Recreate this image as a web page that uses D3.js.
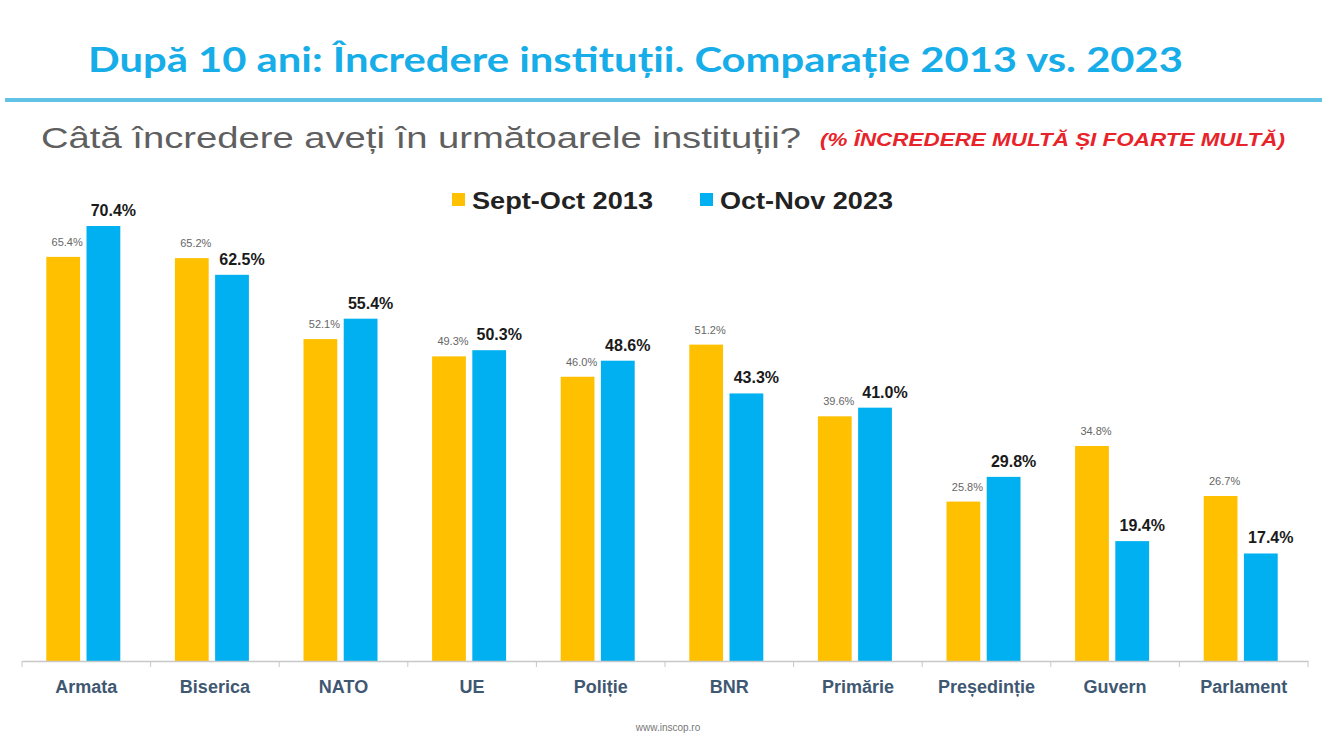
<!DOCTYPE html>
<html>
<head>
<meta charset="utf-8">
<script src="https://cdn.jsdelivr.net/npm/d3@7"></script>
<style>
body { margin: 0; background: #fff; }
svg { display: block; }
</style>
</head>
<body>
<script>
// institutii si valori (% incredere multa si foarte multa)
const categories = ["Armata", "Biserica", "NATO", "UE", "Poliție", "BNR", "Primărie", "Președinție", "Guvern", "Parlament"];
const values2013 = [65.4, 65.2, 52.1, 49.3, 46.0, 51.2, 39.6, 25.8, 34.8, 26.7];
const values2023 = [70.4, 62.5, 55.4, 50.3, 48.6, 43.3, 41.0, 29.8, 19.4, 17.4];
const seriesNames = ["Sept-Oct 2013", "Oct-Nov 2023"];

const W = 1322, H = 750;
const orange = "#FFC000", blue = "#00B0F0";

const svg = d3.select("body").append("svg")
  .attr("width", W)
  .attr("height", H);

// titlu
svg.append("text")
  .attr("x", 88).attr("y", 72)
  .attr("textLength", 1095)
  .attr("lengthAdjust", "spacingAndGlyphs")
  .style("font-family", "Lato, 'Open Sans', sans-serif")
  .style("font-weight", "bold")
  .style("font-size", "35px")
  .style("fill", "#16ADE8")
  .text("După 10 ani: Încredere instituții. Comparație 2013 vs. 2023");

svg.append("line")
  .attr("x1", 5).attr("x2", W)
  .attr("y1", 100).attr("y2", 100)
  .attr("stroke", "#62C3E6")
  .attr("stroke-width", 4);

svg.append("text")
  .attr("x", 41).attr("y", 148)
  .attr("textLength", 760)
  .attr("lengthAdjust", "spacingAndGlyphs")
  .style("font-family", "'Liberation Sans', Arial, sans-serif")
  .style("font-size", "29px")
  .style("fill", "#5f5f5f")
  .text("Câtă încredere aveți în următoarele instituții?");

svg.append("text")
  .attr("x", 820).attr("y", 146)
  .attr("textLength", 465)
  .attr("lengthAdjust", "spacingAndGlyphs")
  .style("font-family", "'Liberation Sans', Arial, sans-serif")
  .style("font-weight", "bold")
  .style("font-style", "italic")
  .style("font-size", "19px")
  .style("fill", "#E8232A")
  .text("(% ÎNCREDERE MULTĂ ȘI FOARTE MULTĂ)");

// legenda
const legend = svg.append("g");
[[orange, 452, seriesNames[0], 181], [blue, 700, seriesNames[1], 173]].forEach(([c, x, t, len]) => {
  legend.append("rect")
    .attr("x", x).attr("y", 193)
    .attr("width", 13).attr("height", 13)
    .attr("fill", c);
  legend.append("text")
    .attr("x", x + 20).attr("y", 209)
    .attr("textLength", len)
    .attr("lengthAdjust", "spacingAndGlyphs")
    .style("font-family", "'Liberation Sans', Arial, sans-serif")
    .style("font-weight", "bold")
    .style("font-size", "23px")
    .style("fill", "#222")
    .text(t);
});

// scale
const x0 = d3.scaleBand()
  .domain(categories)
  .range([22, 1308]);

const x1 = d3.scaleBand()
  .domain(seriesNames)
  .range([0, 74])
  .paddingInner(0.16);

const y = d3.scaleLinear()
  .domain([0, 70.4])
  .range([661, 226]);

const rows = categories.map((c, i) => ({ c: c, a: values2013[i], b: values2023[i] }));

const groups = svg.selectAll("g.cat")
  .data(rows)
  .enter()
  .append("g")
  .attr("class", "cat")
  .attr("transform", d => "translate(" + (x0(d.c) + x0.bandwidth() / 2 - 40) + ",0)");

groups.append("rect")
  .attr("x", x1(seriesNames[0]))
  .attr("y", d => y(d.a))
  .attr("width", x1.bandwidth())
  .attr("height", d => y(0) - y(d.a))
  .attr("fill", orange);

groups.append("rect")
  .attr("x", x1(seriesNames[1]))
  .attr("y", d => y(d.b))
  .attr("width", x1.bandwidth())
  .attr("height", d => y(0) - y(d.b))
  .attr("fill", blue);

// etichete valori
groups.append("text")
  .attr("x", x1(seriesNames[0]) + x1.bandwidth() / 2 + 4)
  .attr("y", d => y(d.a) - 11)
  .attr("text-anchor", "middle")
  .style("font-family", "'Liberation Sans', Arial, sans-serif")
  .style("font-size", "11px")
  .style("fill", "#666")
  .text(d => d.a.toFixed(1) + "%");

groups.append("text")
  .attr("x", x1(seriesNames[1]) + x1.bandwidth() / 2 + 10)
  .attr("y", d => y(d.b) - 10)
  .attr("text-anchor", "middle")
  .style("font-family", "'Liberation Sans', Arial, sans-serif")
  .style("font-weight", "bold")
  .style("font-size", "16px")
  .style("fill", "#1a1a1a")
  .text(d => d.b.toFixed(1) + "%");

// axa x
const xAxis = d3.axisBottom(x0).tickSize(0).tickPadding(19);
const ax = svg.append("g")
  .attr("transform", "translate(0," + y(0) + ")")
  .call(xAxis);
ax.select(".domain").attr("stroke", "#c8c8c8").attr("stroke-width", 1.5);
ax.selectAll("text")
  .style("font-family", "'Liberation Sans', Arial, sans-serif")
  .style("font-weight", "bold")
  .style("font-size", "18px")
  .style("fill", "#3F5872");

// liniute intre categorii
ax.selectAll("line.sep")
  .data(categories.concat(["end"]))
  .enter()
  .append("line")
  .attr("class", "sep")
  .attr("x1", (d, i) => 22 + i * x0.step())
  .attr("x2", (d, i) => 22 + i * x0.step())
  .attr("y1", 0).attr("y2", 6)
  .attr("stroke", "#c8c8c8");

svg.append("text")
  .attr("x", 668).attr("y", 731)
  .attr("text-anchor", "middle")
  .style("font-family", "'Liberation Sans', Arial, sans-serif")
  .style("font-size", "10px")
  .style("fill", "#777")
  .text("www.inscop.ro");
</script>
</body>
</html>
